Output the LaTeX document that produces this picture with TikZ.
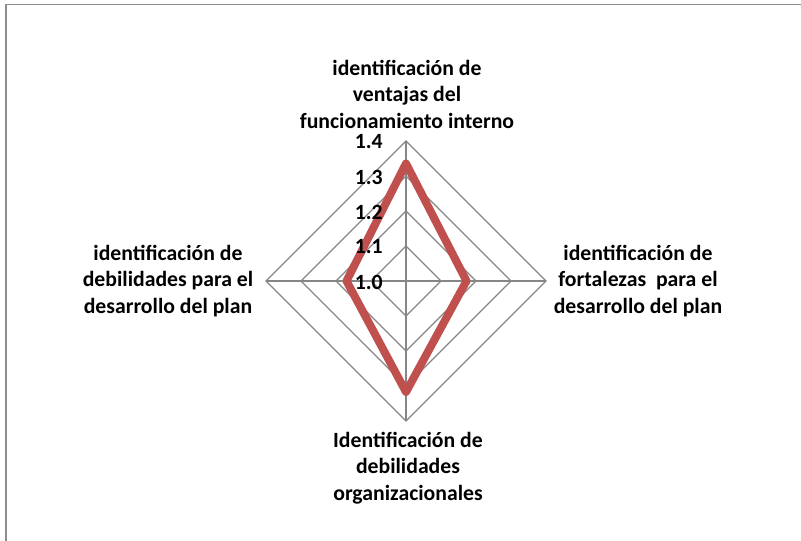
\documentclass[tikz,border=0pt]{standalone}
\usepackage{fontspec}
\setmainfont{Carlito}
\usetikzlibrary{calc}
\definecolor{seriesred}{RGB}{192,80,77}
\definecolor{gridgray}{RGB}{134,134,134}
\definecolor{framegray}{RGB}{140,140,140}

\begin{document}
\begin{tikzpicture}[x=0.75pt,y=0.75pt]
\tikzset{FRAME/.style={draw=framegray,line width=1.1pt}}
\tikzset{GRID/.style={draw=gridgray,line width=0.9pt}}
\tikzset{SERIES/.style={draw=seriesred,line width=6pt,line join=round}}
\tikzset{AXIS LABEL/.style={align=center,inner sep=0pt,font=\bfseries\fontsize{16.3}{19.9}\selectfont}}
\tikzset{TICK/.style={anchor=east,inner sep=0pt,font=\bfseries\fontsize{16.3}{18}\selectfont}}

\useasboundingbox (-406,-260) rectangle (395,281);
\draw[FRAME] (-400,-290) rectangle (420,276.5);

% grid rings and spokes
\foreach \r in {35,70,105,140}
  \draw[GRID] (0,\r) -- (\r,0) -- (0,-\r) -- (-\r,0) -- cycle;
\coordinate (north) at (0,140);
\coordinate (south) at (0,-140);
\coordinate (west) at (-140,0);
\coordinate (east) at (140,0);
\draw[GRID] (north) -- (south);
\draw[GRID] (west) -- (east);

% series
\coordinate (ventajas) at (0,117.5);
\coordinate (fortalezas) at (60.5,0);
\coordinate (organizacionales) at (0,-111);
\coordinate (debilidades) at (-59.5,0);
\draw[SERIES] (ventajas) -- (fortalezas) -- (organizacionales) -- (debilidades) -- cycle;

% tick labels
\foreach \r/\v in {0/1.0,35/1.1,70/1.2,105/1.3,140/1.4}
  \node[TICK] (tick \v) at (-23,\r-1) {\v};

% axis labels
\node[AXIS LABEL] (label ventajas) at (1,187) {identificación de\\ventajas del\\funcionamiento interno};
\node[AXIS LABEL] (label fortalezas) at (232,0) {identificación de\\fortalezas\ \ para el\\desarrollo del plan};
\node[AXIS LABEL] (label organizacionales) at (2,-187) {Identificación de\\debilidades\\organizacionales};
\node[AXIS LABEL] (label debilidades) at (-238,0) {identificación de\\debilidades para el\\desarrollo del plan};
\end{tikzpicture}
\end{document}
